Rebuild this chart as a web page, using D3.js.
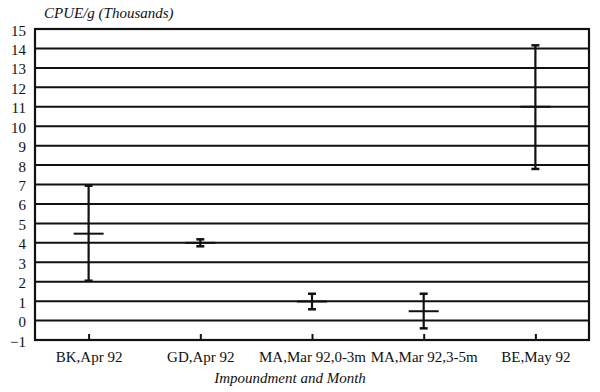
<!DOCTYPE html>
<html>
<head>
<meta charset="utf-8">
<script src="https://cdn.jsdelivr.net/npm/d3@7"></script>
<style>
  body { margin: 0; background: #fff; }
</style>
</head>
<body>
<div id="chart"></div>
<script>
var svgWidth = 600;
var svgHeight = 392;
var serif = '"Liberation Serif", "Times New Roman", serif';

// data (thousands)
var categories = ["BK,Apr 92", "GD,Apr 92", "MA,Mar 92,0-3m", "MA,Mar 92,3-5m", "BE,May 92"];
var means = [4.47, 4.0, 0.98, 0.48, 11.0];
var highs = [6.94, 4.18, 1.38, 1.38, 14.16];
var lows = [2.05, 3.82, 0.58, -0.4, 7.8];
var yTicks = d3.range(-1, 16);

var margin = {top: 29, left: 35, right: 11, bottom: 52};
var width = svgWidth - margin.left - margin.right;
var height = svgHeight - margin.top - margin.bottom;

var svg = d3.select("#chart").append("svg").attr("width", svgWidth).attr("height", svgHeight);
var chartGroup = svg.append("g").attr("transform", `translate(${margin.left},${margin.top})`);

var xScale = d3.scalePoint().domain(categories).range([0, width]).padding(0.48);
var yScale = d3.scaleLinear().domain([-1, 15]).range([height, 0]);

// horizontal grid
chartGroup.selectAll(".grid").data(yTicks).enter().append("line")
    .attr("x1", 0).attr("x2", width)
    .attr("y1", d => yScale(d)).attr("y2", d => yScale(d))
    .attr("stroke", "#111").attr("stroke-width", 2);

// frame
chartGroup.append("rect").attr("x", 0).attr("y", 0).attr("width", width).attr("height", height)
    .attr("fill", "none").attr("stroke", "#111").attr("stroke-width", 2.2);

var leftAxis = d3.axisLeft(yScale).tickValues(yTicks).tickSize(0).tickPadding(9);
var yAxis = chartGroup.append("g").call(leftAxis);
yAxis.select(".domain").remove();
yAxis.selectAll("text").style("font-family", serif).style("font-size", "15px").attr("fill", "#111").attr("dy", "0.4em");

var bottomAxis = d3.axisBottom(xScale).tickSize(-6).tickPadding(11);
var xAxis = chartGroup.append("g").attr("transform", `translate(0,${height})`).call(bottomAxis);
xAxis.select(".domain").remove();
xAxis.selectAll("line").attr("stroke", "#111").attr("stroke-width", 2);
xAxis.selectAll("text").style("font-family", serif).style("font-size", "15px").attr("fill", "#111");

// error bars
var bars = chartGroup.selectAll(".bar").data(categories).enter().append("g")
    .attr("transform", d => `translate(${xScale(d)},0)`);

bars.append("line").attr("x1", 0).attr("x2", 0)
    .attr("y1", (d, i) => yScale(highs[i])).attr("y2", (d, i) => yScale(lows[i]))
    .attr("stroke", "#111").attr("stroke-width", 2.2);
bars.append("line").attr("x1", -4).attr("x2", 4)
    .attr("y1", (d, i) => yScale(highs[i])).attr("y2", (d, i) => yScale(highs[i]))
    .attr("stroke", "#111").attr("stroke-width", 2.5);
bars.append("line").attr("x1", -4).attr("x2", 4)
    .attr("y1", (d, i) => yScale(lows[i])).attr("y2", (d, i) => yScale(lows[i]))
    .attr("stroke", "#111").attr("stroke-width", 2.5);
bars.append("line").attr("x1", -15).attr("x2", 15)
    .attr("y1", (d, i) => yScale(means[i])).attr("y2", (d, i) => yScale(means[i]))
    .attr("stroke", "#111").attr("stroke-width", 2);

// titles
svg.append("text").attr("x", 44).attr("y", 18)
    .style("font-family", serif).style("font-size", "15px").style("font-style", "italic")
    .attr("fill", "#111")
    .text("CPUE/g (Thousands)");
svg.append("text").attr("x", 290).attr("y", 383).attr("text-anchor", "middle")
    .style("font-family", serif).style("font-size", "15px").style("font-style", "italic")
    .attr("fill", "#111")
    .text("Impoundment and Month");
</script>
</body>
</html>
